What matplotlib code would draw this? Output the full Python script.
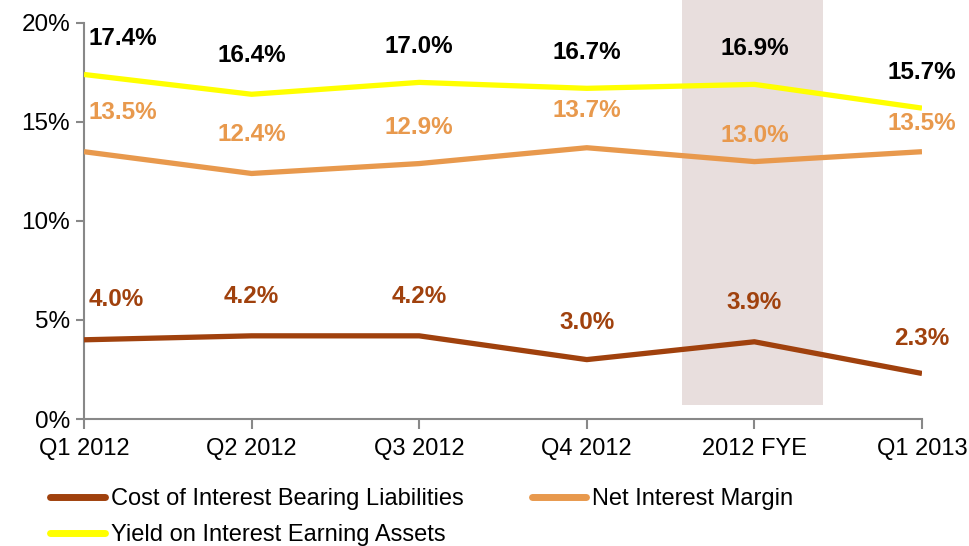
import matplotlib
matplotlib.use("Agg")
import matplotlib.pyplot as plt
from matplotlib.patches import Rectangle
from matplotlib.lines import Line2D

plt.rcParams['font.family'] = ['Liberation Sans', 'DejaVu Sans']

quarters = ["Q1 2012", "Q2 2012", "Q3 2012", "Q4 2012", "2012 FYE", "Q1 2013"]
cost_liab = [4.0, 4.2, 4.2, 3.0, 3.9, 2.3]
net_margin = [13.5, 12.4, 12.9, 13.7, 13.0, 13.5]
yield_assets = [17.4, 16.4, 17.0, 16.7, 16.9, 15.7]

c_cost = "#A0410D"
c_nim = "#E8994D"
c_yield = "#FFFF00"

fig = plt.figure(figsize=(9.7, 5.46), dpi=100)
ax = fig.add_axes([0.0866, 0.2326, 0.8639, 0.7253])

x = list(range(len(quarters)))

# shaded FYE column (goes above the plot area like in the original)
ax.add_patch(Rectangle((3.57, 0.7), 0.84, 20.6, facecolor="#E8DEDD",
                       edgecolor="none", clip_on=False, zorder=0))

ax.plot(x, cost_liab, color=c_cost, lw=3.8, solid_capstyle="butt", zorder=3)
ax.plot(x, net_margin, color=c_nim, lw=3.8, solid_capstyle="butt", zorder=3)
ax.plot(x, yield_assets, color=c_yield, lw=3.8, solid_capstyle="butt", zorder=3)

# data labels (offset in points above each point)
def label_series(vals, color, dys):
    for i, v in enumerate(vals):
        ha = "left" if i == 0 else "center"
        dx = 3 if i == 0 else 0
        ax.annotate(f"{v:.1f}%", (i, v), xytext=(dx, dys[i]),
                    textcoords="offset points", ha=ha, va="center",
                    fontsize=17.5, fontweight="bold", color=color,
                    annotation_clip=False, zorder=4)

label_series(yield_assets, "black", [26, 28, 26, 26, 26, 26])
label_series(net_margin, c_nim, [28, 28, 26, 27, 19, 20])
label_series(cost_liab, c_cost, [29, 28, 28, 27, 28, 25])

ax.set_xlim(0, 5)
ax.set_ylim(0, 20)
ax.set_yticks([0, 5, 10, 15, 20])
ax.set_yticklabels(["0%", "5%", "10%", "15%", "20%"])
ax.set_xticks(x)
ax.set_xticklabels(quarters)

for s in ["top", "right"]:
    ax.spines[s].set_visible(False)
for s in ["left", "bottom"]:
    ax.spines[s].set_color("#888888")
    ax.spines[s].set_linewidth(1.5)
ax.tick_params(axis="y", length=6, width=1.5, color="#888888",
               labelsize=17.5, pad=4)
ax.tick_params(axis="x", length=7, width=1.5, color="#888888",
               labelsize=17, pad=7)
ax.set_facecolor("none")

handles = [
    Line2D([], [], color=c_cost, lw=5, solid_capstyle="round"),
    Line2D([], [], color=c_yield, lw=5, solid_capstyle="round"),
    Line2D([], [], color=c_nim, lw=5, solid_capstyle="round"),
]
labels = ["Cost of Interest Bearing Liabilities",
          "Yield on Interest Earning Assets",
          "Net Interest Margin"]
fig.legend(handles, labels, ncol=2, loc="upper left",
           bbox_to_anchor=(0.052, 0.106), frameon=False, fontsize=17,
           handlelength=2.3, handletextpad=0.25, columnspacing=2.9,
           labelspacing=0.6, borderaxespad=0, borderpad=0)

fig.savefig("out.png", dpi=100)
